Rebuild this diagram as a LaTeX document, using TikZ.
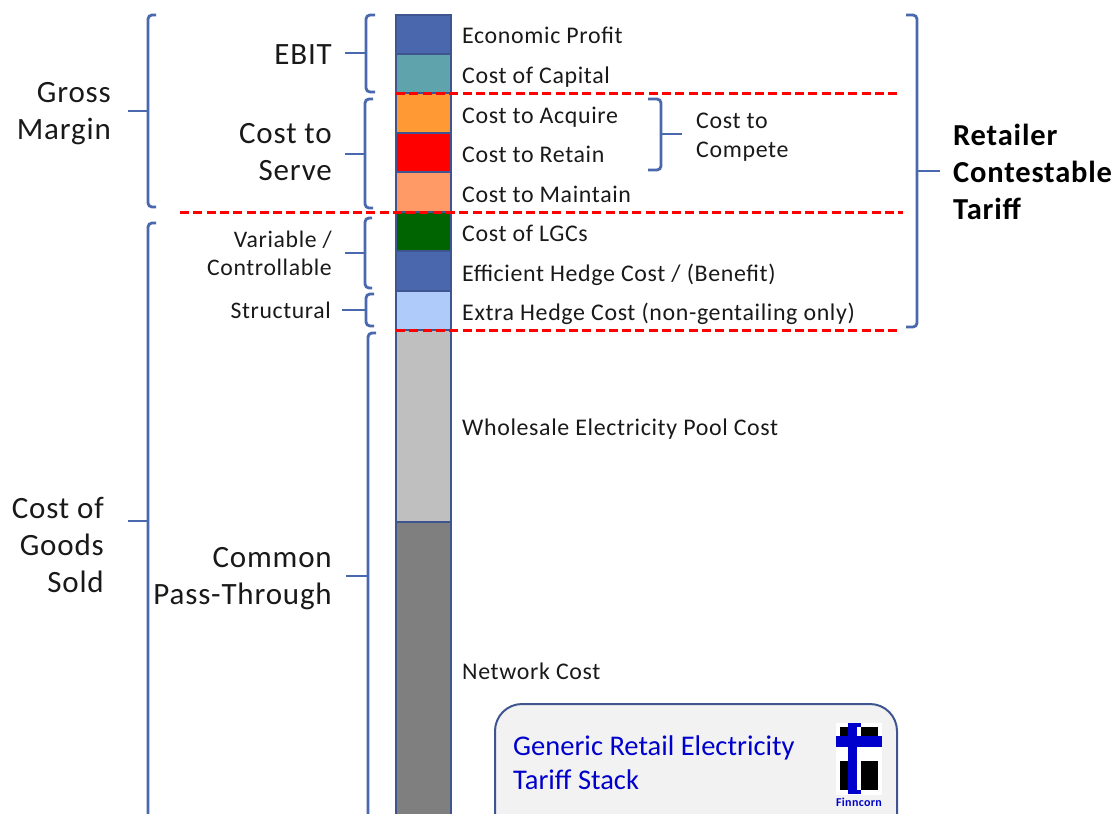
\documentclass[tikz,border=0pt]{standalone}
\usepackage{fontspec}
\setmainfont[LetterSpace=2.7]{Carlito}
\newfontfamily\titlefont{Carlito}
\newcommand{\txt}[1]{\fontsize{#1}{#1}\selectfont}
\definecolor{brc}{HTML}{4A68AE}
\definecolor{edgec}{HTML}{3F5590}
\definecolor{logoblue}{HTML}{0000CC}
\tikzset{
 brace/.style={draw=brc,line width=2.8pt,rounded corners=4pt},
 seg/.style={draw=edgec,line width=1.5pt},
 cut/.style={draw=red,line width=3pt,dash pattern=on 9pt off 4.3pt},
 lab/.style={anchor=base west,inner sep=0pt,text=black!90,font=\txt{23.9}},
 big/.style={align=right,anchor=east,inner sep=0pt,text=black!90,font=\txt{31},text depth=0pt},
 mid/.style={align=right,anchor=east,inner sep=0pt,text=black!90,font=\txt{23.7}},
}
% left brace: spine x, top, bottom, hook x, tick x, tick y
\newcommand{\lbr}[6]{\draw[brace] (#4,#2) -- (#1,#2) -- (#1,#3) -- (#4,#3); \draw[brace,rounded corners=0pt] (#5,#6) -- (#1,#6);}
\begin{document}
\begin{tikzpicture}[x=1pt,y=-1pt]
\useasboundingbox (0,0) rectangle (1117,814);
\clip (0,0) rectangle (1117,814);
% stack
\foreach \a/\b/\c in {15/54/4A66AC,54/93/5FA3AC,93/133/FF9933,133/172/FF0000,172/212/FF9966,212/251/006400,251/291/4A66AC,291/330/AECBFA,330/522/BFBFBF,522/830/7F7F7F}{
  \definecolor{tmpc}{HTML}{\c}
  \path[seg,fill=tmpc] (396,\a) rectangle (451,\b);
}
% cuts
\coordinate (c1a) at (396,93); \coordinate (c1b) at (897,93);
\coordinate (c2a) at (180,212); \coordinate (c2b) at (903,212);
\coordinate (c3a) at (396,330); \coordinate (c3b) at (897,330);
\draw[cut] (c1a) -- (c1b);
\draw[cut] (c2a) -- (c2b);
\draw[cut] (c3a) -- (c3b);
% braces
\lbr{148}{15}{207}{156}{128}{111}
\lbr{148}{223}{840}{156}{128}{521}
\lbr{366}{15}{92}{375}{345}{53}
\lbr{365}{99}{208}{373}{345}{154}
\lbr{365}{218}{288}{372}{345}{253}
\lbr{366}{294}{326}{374}{342}{310}
\lbr{368}{333}{840}{376}{346}{576}
\lbr{661}{99}{170}{648}{682}{134}
\lbr{917}{15}{327}{906}{940}{171}
% segment labels
\node[lab] (t1) at (462,43) {Economic Profit};
\node[lab] (t2) at (462,83) {Cost of Capital};
\node[lab] (t3) at (462,123) {Cost to Acquire};
\node[lab] (t4) at (462,162) {Cost to Retain};
\node[lab] (t5) at (462,202) {Cost to Maintain};
\node[lab] (t6) at (462,241) {Cost of LGCs};
\node[lab] (t7) at (462,281) {Efficient Hedge Cost / (Benefit)};
\node[lab] (t8) at (462,320) {Extra Hedge Cost (non-gentailing only)};
\node[lab] (t9) at (462,435) {Wholesale Electricity Pool Cost};
\node[lab] (t10) at (462,679) {Network Cost};
\node[align=left,anchor=west,inner sep=0pt,text=black!90,font=\txt{23.9}] (t11) at (696,137.5) {Cost to\\[5pt]Compete};
% group labels
\node[big] (g1) at (111,111) {Gross\\[6pt]Margin};
\node[big] (g2) at (104,545) {Cost of\\[6pt]Goods\\[6pt]Sold};
\node[big] (g3) at (332,55) {EBIT};
\node[big] (g4) at (332,152) {Cost to\\[6pt]Serve};
\node[mid] (g5) at (332,253.5) {Variable /\\[4pt]Controllable};
\node[mid] (g6) at (331,310) {Structural};
\node[big] (g7) at (332,576) {Common\\[6pt]Pass-Through};
\node[anchor=west,align=left,inner sep=0pt,text=black,font=\txt{30.5}\bfseries] (g8) at (953,171.5) {Retailer\\[6.5pt]Contestable\\[6.5pt]Tariff};
% title box
\path[draw=edgec,line width=2pt,fill=black!5,rounded corners=27pt] (495,704) rectangle (897,860);
\node[anchor=west,align=left,inner sep=0pt,text=logoblue,font=\titlefont\txt{28.5}] (title) at (513,762.5) {Generic Retail Electricity\\[5pt]Tariff Stack};
% logo
\fill[white] (836,723) rectangle (882,795);
\fill[black] (840,727) rectangle (878,747);
\fill[black] (840,761) rectangle (878,790);
\fill[white] (857,727) rectangle (861,790);
\fill[logoblue] (836,736) rectangle (882,747);
\fill[logoblue] (848,723) rectangle (857,794);
\fill[logoblue] (848,723) rectangle (861,727);
\fill[logoblue] (848,790) rectangle (861,794);
\node[inner sep=0pt,text=logoblue,font=\txt{12}\bfseries] (logo) at (859,802) {Finncorn};
\end{tikzpicture}
\end{document}
